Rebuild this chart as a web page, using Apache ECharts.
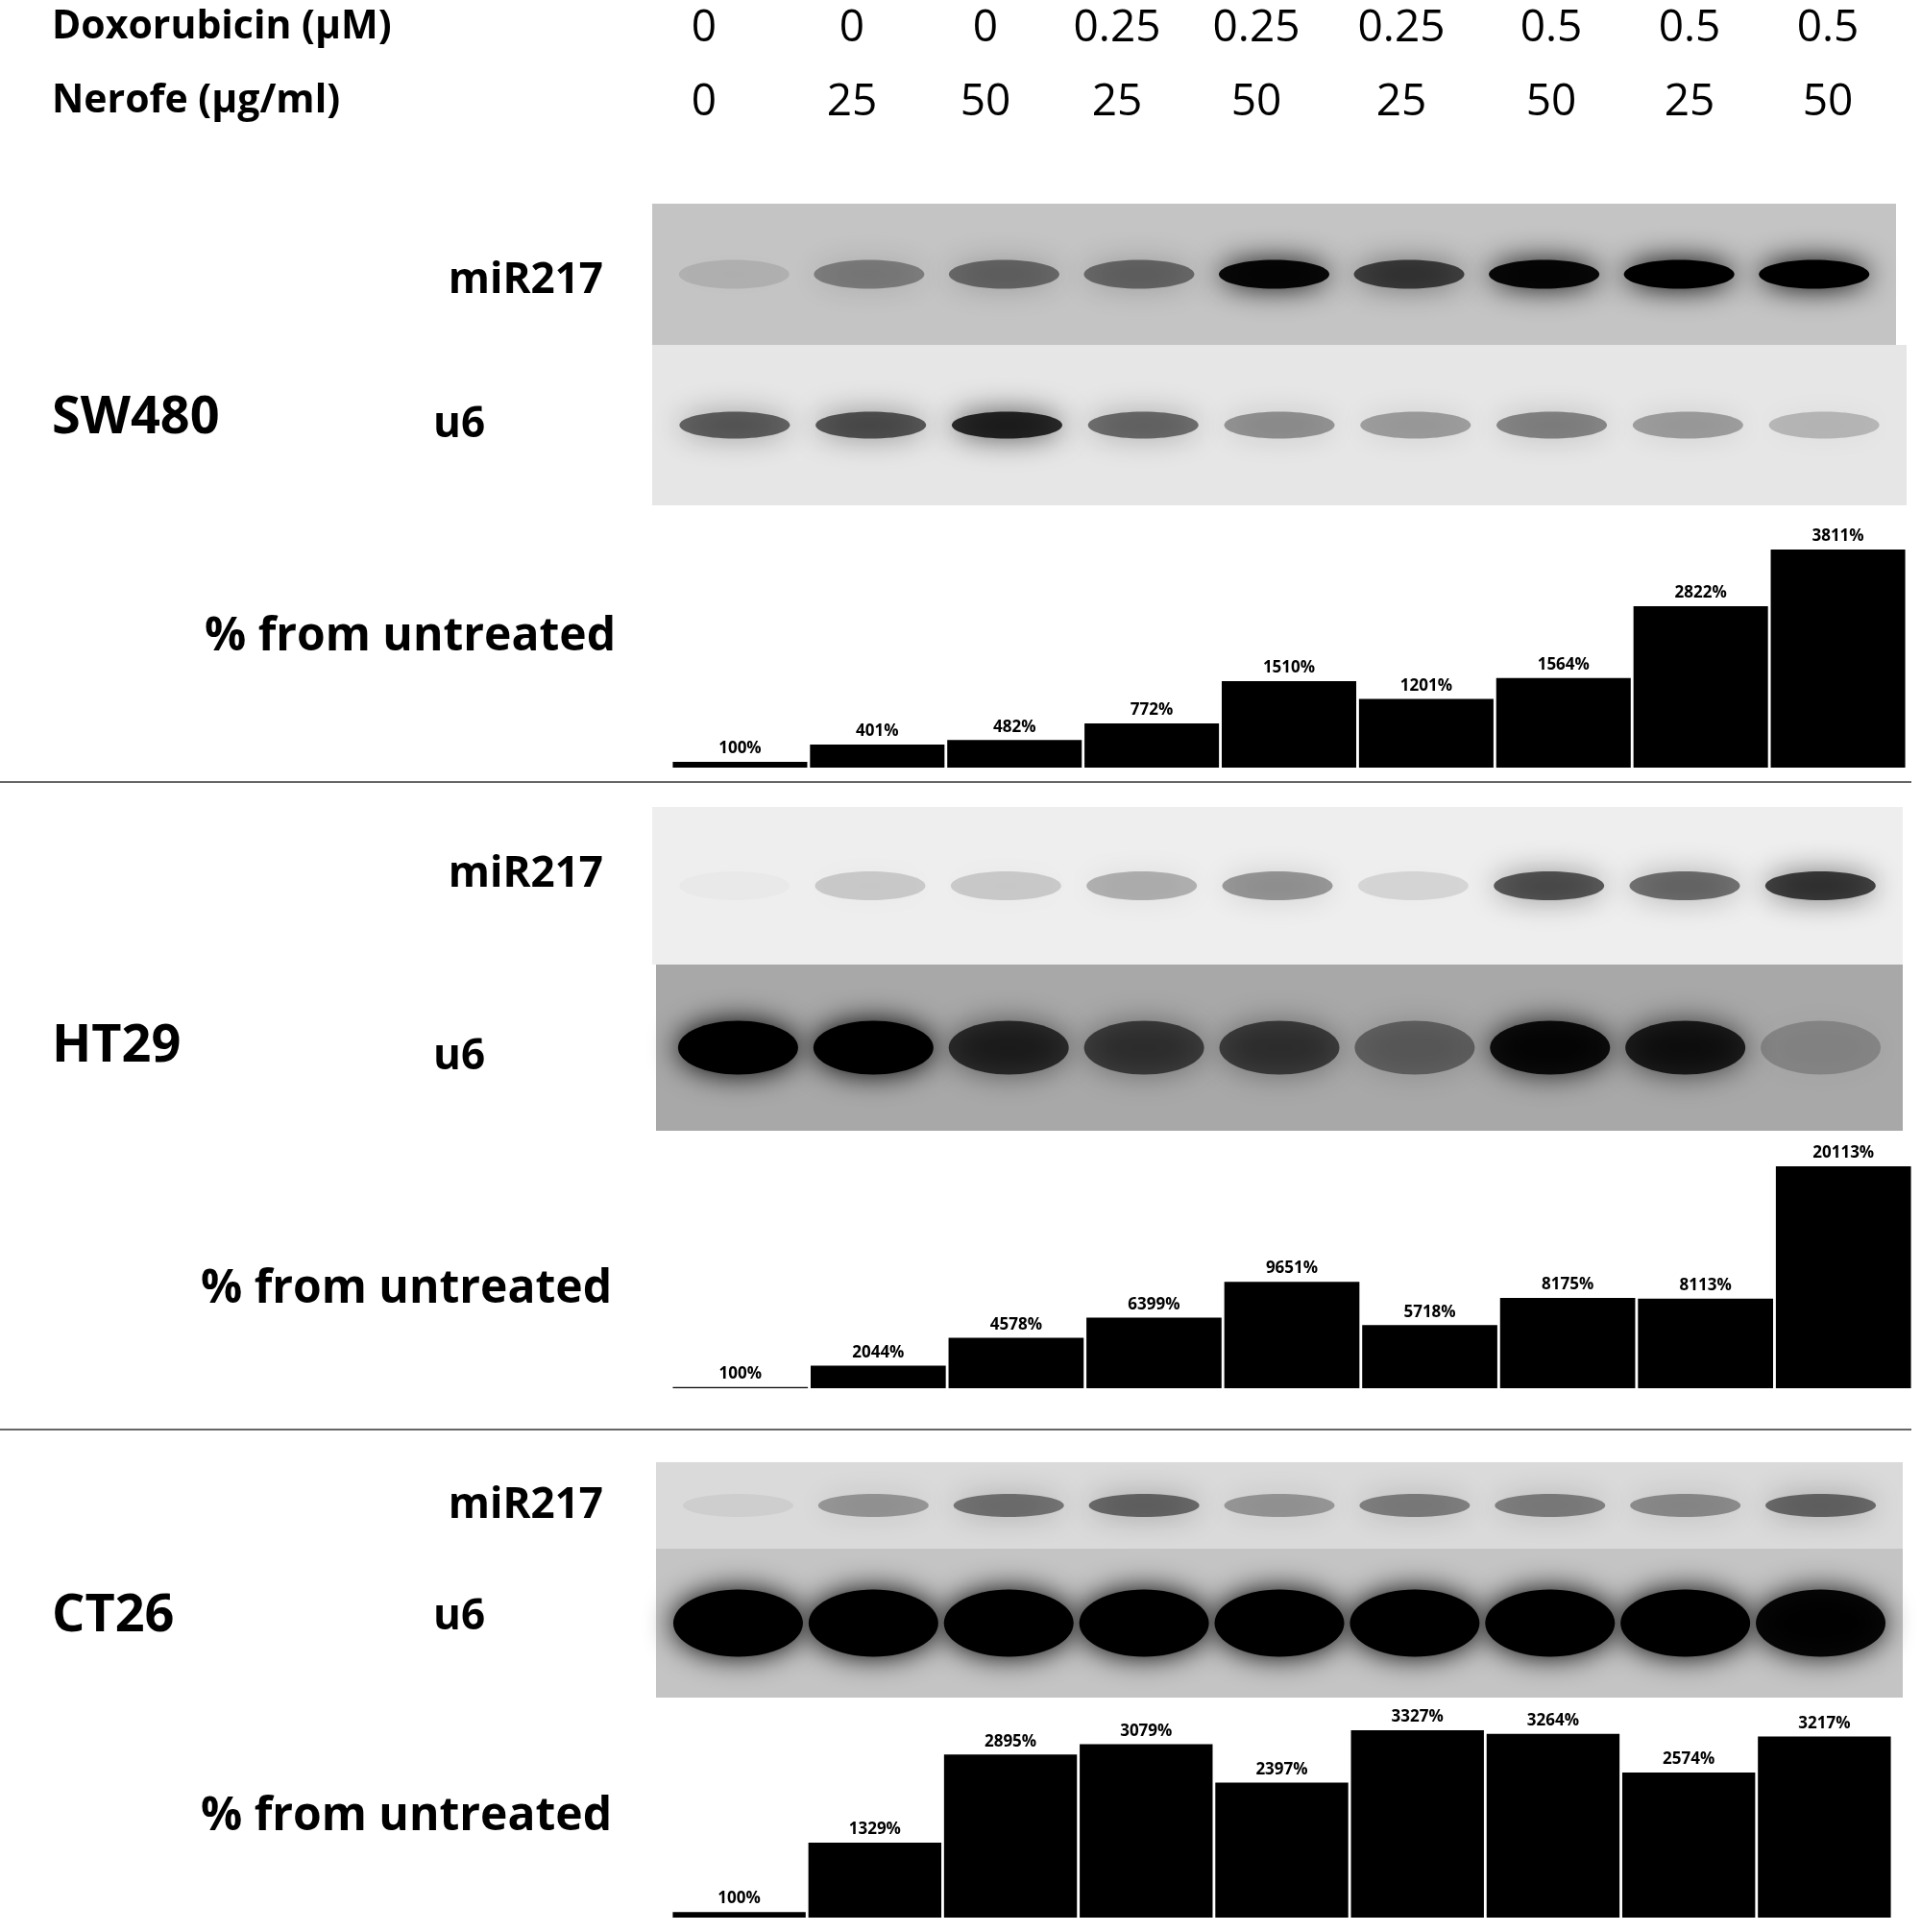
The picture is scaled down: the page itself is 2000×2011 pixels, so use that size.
<!DOCTYPE html>
<html><head><meta charset="utf-8">
<script src="https://cdn.jsdelivr.net/npm/echarts@6/dist/echarts.min.js"></script>
<style>html,body{margin:0;padding:0;background:#fff}#c{width:2000px;height:2011px}</style>
</head><body><div id="c"></div>
<script>
const doxo = ['0','0','0','0.25','0.25','0.25','0.5','0.5','0.5'];
const nerofe = ['0','25','50','25','50','25','50','25','50'];
const sw480 = [100,401,482,772,1510,1201,1564,2822,3811];
const ht29 = [100,2044,4578,6399,9651,5718,8175,8113,20113];
const ct26 = [100,1329,2895,3079,2397,3327,3264,2574,3217];
// band darkness estimates
const swMiR = [0.1,0.35,0.45,0.45,0.95,0.65,0.95,1,1];
const swU6 = [0.55,0.6,0.8,0.5,0.35,0.3,0.4,0.3,0.2];
const htMiR = [0.02,0.15,0.15,0.25,0.35,0.1,0.6,0.5,0.7];
const htU6 = [1,1,0.7,0.6,0.6,0.4,0.9,0.8,0.2];
const ctMiR = [0.05,0.3,0.45,0.5,0.3,0.4,0.4,0.35,0.5];
const ctU6 = [1,1,1,1,1,1,1,1,0.95];

const chart = echarts.init(document.getElementById('c'));
const colX = [733,887,1026,1163,1308,1459,1615,1759,1903];
const F = '"Open Sans", sans-serif';
const g = [];
function txt(x,y,s,size,align){g.push({type:'text',x:x,y:y,style:{text:s,font:'bold '+size+'px '+F,fill:'#000',align:align||'left',verticalAlign:'middle'}});}
txt(54,28,'Doxorubicin (μM)',41); txt(54,105,'Nerofe (μg/ml)',41);
doxo.forEach((d,i)=>g.push({type:'text',x:colX[i],y:30,style:{text:d,font:'46px '+F,fill:'#000',align:'center',verticalAlign:'middle'}}));
nerofe.forEach((d,i)=>g.push({type:'text',x:colX[i],y:107,style:{text:d,font:'46px '+F,fill:'#000',align:'center',verticalAlign:'middle'}}));
function blot(x0,y0,x1,y1,bg,vals,bh,bw){
  g.push({type:'rect',shape:{x:x0,y:y0,width:x1-x0,height:y1-y0},style:{fill:bg}});
  const step=(x1-x0-30)/9;
  vals.forEach((v,i)=>{
    const cx=x0+15+step*(i+0.5), cy=(y0+y1)/2;
    g.push({type:'ellipse',shape:{cx:cx,cy:cy,rx:bw/2,ry:bh/2},style:{fill:'rgba(0,0,0,'+v+')',shadowBlur:30,shadowColor:'rgba(0,0,0,'+v+')'}});
  });
}
blot(679,212,1974,359,'#c4c4c4',swMiR,30,115);
blot(679,359,1985,526,'#e6e6e6',swU6,28,115);
blot(679,840,1981,1004,'#eeeeee',htMiR,30,115);
blot(683,1004,1981,1177,'#a8a8a8',htU6,56,125);
blot(683,1522,1981,1612,'#dadada',ctMiR,24,115);
blot(683,1612,1981,1767,'#c4c4c4',ctU6,70,135);
[[436,'SW480',292,442,663,641],[1090,'HT29',910,1100,1342,637],[1683,'CT26',1567,1683,1891,637]].forEach(r=>{
  txt(54,r[0],r[1],54);
  txt(628,r[2],'miR217',44,'right');
  txt(451,r[3],'u6',44);
  txt(r[5],r[4],'% from untreated',48,'right');
});
g.push({type:'line',shape:{x1:0,y1:814,x2:1990,y2:814},style:{stroke:'#333',lineWidth:1.5}});
g.push({type:'line',shape:{x1:0,y1:1488,x2:1990,y2:1488},style:{stroke:'#333',lineWidth:1.5}});

const grids=[{left:699,width:1286,top:526,height:273},{left:699,width:1292,top:1180,height:265},{left:699,width:1271,top:1780,height:216}];
const maxes=[4583,23073,3685];
const datas=[sw480,ht29,ct26];
chart.setOption({
  animation:false,
  grid:grids,
  xAxis:grids.map((_,i)=>({type:'category',gridIndex:i,data:doxo.map((d,j)=>d+'/'+nerofe[j]),show:false})),
  yAxis:grids.map((_,i)=>({type:'value',gridIndex:i,min:0,max:maxes[i],show:false})),
  series:datas.map((d,i)=>({type:'bar',xAxisIndex:i,yAxisIndex:i,data:d,barCategoryGap:'2%',
    itemStyle:{color:'#000'},
    label:{show:true,position:'top',formatter:p=>p.value+'%',fontSize:17,fontWeight:'bold',color:'#000',fontFamily:F}})),
  graphic:g
});
</script></body></html>
